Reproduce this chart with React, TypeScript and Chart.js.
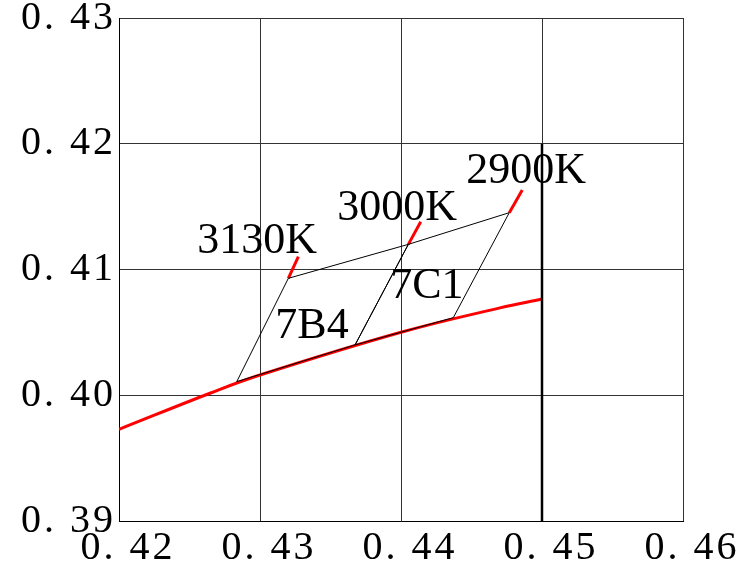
import React, { useEffect, useRef } from "react";
import { Chart, registerables } from "chart.js";

Chart.register(...registerables);

// Axis ticks
const xTicks = [0.42, 0.43, 0.44, 0.45, 0.46];
const yTicks = [0.39, 0.4, 0.41, 0.42, 0.43];

// Planckian locus (red curve)
const locusX = [0.42, 0.42645, 0.43, 0.44, 0.44702, 0.45];
const locusY = [0.39729, 0.40016, 0.40161, 0.40501, 0.40695, 0.40765];

// Bin 7B4 quadrilateral (BL, TL, TM, BM)
const bin7B4X = [0.42835, 0.43201, 0.44052, 0.43674, 0.42835];
const bin7B4Y = [0.40108, 0.4093, 0.412, 0.404, 0.40108];

// Bin 7C1 quadrilateral (BM, TM, TR, BR)
const bin7C1X = [0.43674, 0.44052, 0.44768, 0.44371, 0.43674];
const bin7C1Y = [0.404, 0.412, 0.41452, 0.40617, 0.404];

// Isotherm markers (red short segments)
const iso3130X = [0.43201, 0.43272];
const iso3130Y = [0.4093, 0.41102];
const iso3000X = [0.44052, 0.4414];
const iso3000Y = [0.412, 0.4138];
const iso2900X = [0.44768, 0.4486];
const iso2900Y = [0.41452, 0.41632];

// Thick vertical line at x = 0.45
const vlineX = [0.45, 0.45];
const vlineY = [0.39, 0.42];

// Text annotations
const labelTexts = ["3130K", "3000K", "2900K", "7B4", "7C1"];
const labelX = [0.42979, 0.43972, 0.44887, 0.43369, 0.44184];
const labelY = [0.41131, 0.41394, 0.41688, 0.40455, 0.40773];

const pts = (xs: number[], ys: number[]) => xs.map((x, i) => ({ x, y: ys[i] }));

const fmt = (v: number) => Number(v).toFixed(2).replace(".", ". ");

const spacingPlugin = {
  id: "tickSpacing",
  beforeDraw(chart: any) {
    (chart.ctx as any).letterSpacing = "3px";
  },
  afterDraw(chart: any) {
    (chart.ctx as any).letterSpacing = "0px";
  },
};

const labelPlugin = {
  id: "textLabels",
  afterDatasetsDraw(chart: any) {
    const { ctx, scales } = chart;
    ctx.save();
    (ctx as any).letterSpacing = "0px";
    ctx.font = "44px 'Liberation Serif'";
    ctx.fillStyle = "#000";
    ctx.textAlign = "center";
    ctx.textBaseline = "alphabetic";
    labelTexts.forEach((t, i) => {
      ctx.fillText(t, scales.x.getPixelForValue(labelX[i]), scales.y.getPixelForValue(labelY[i]));
    });
    ctx.restore();
  },
};

export default function App() {
  const ref = useRef<HTMLCanvasElement | null>(null);
  useEffect(() => {
    if (!ref.current) return;
    const line = (data: any, color: string, width: number) => ({
      data,
      borderColor: color,
      backgroundColor: color,
      borderWidth: width,
      showLine: true,
      pointRadius: 0,
      fill: false,
    });
    const chart = new Chart(ref.current, {
      type: "scatter",
      data: {
        datasets: [
          line(pts(vlineX, vlineY), "#000", 2.5),
          line(pts(bin7B4X, bin7B4Y), "#000", 1),
          line(pts(bin7C1X, bin7C1Y), "#000", 1),
          { ...line(pts(locusX, locusY), "#ff0000", 3), tension: 0.4 },
          line(pts(iso3130X, iso3130Y), "#ff0000", 3),
          line(pts(iso3000X, iso3000Y), "#ff0000", 3),
          line(pts(iso2900X, iso2900Y), "#ff0000", 3),
        ],
      },
      options: {
        animation: false,
        responsive: false,
        layout: { padding: { top: 18, right: 62, left: 0, bottom: 0 } },
        plugins: { legend: { display: false }, tooltip: { enabled: false } },
        scales: {
          x: {
            type: "linear",
            min: 0.42,
            max: 0.46,
            afterBuildTicks: (s: any) => {
              s.ticks = xTicks.map((v) => ({ value: v }));
            },
            afterFit: (s: any) => {
              s.height = 51;
              s.paddingLeft = 0;
              s.paddingRight = 0;
            },
            grid: { color: "#333", lineWidth: 1, drawTicks: false },
            border: { color: "#000", width: 1 },
            ticks: {
              color: "#000",
              font: { family: "'Liberation Serif'", size: 40 },
              padding: 3,
              labelOffset: 9,
              maxRotation: 0,
              autoSkip: false,
              callback: (v: any) => fmt(v),
            },
          },
          y: {
            type: "linear",
            min: 0.39,
            max: 0.43,
            afterBuildTicks: (s: any) => {
              s.ticks = yTicks.map((v) => ({ value: v }));
            },
            afterFit: (s: any) => {
              s.width = 119;
              s.paddingTop = 0;
              s.paddingBottom = 0;
            },
            grid: { color: "#333", lineWidth: 1, drawTicks: false },
            border: { color: "#000", width: 1 },
            ticks: {
              color: "#000",
              font: { family: "'Liberation Serif'", size: 40 },
              padding: 3,
              autoSkip: false,
              callback: (v: any) => fmt(v),
            },
          },
        },
      },
      plugins: [spacingPlugin, labelPlugin],
    });
    return () => chart.destroy();
  }, []);
  return (
    <div style={{ position: "absolute", left: 0, top: 0, width: 745, height: 572, background: "#fff" }}>
      <canvas ref={ref} width={745} height={572} style={{ display: "block" }} />
    </div>
  );
}
